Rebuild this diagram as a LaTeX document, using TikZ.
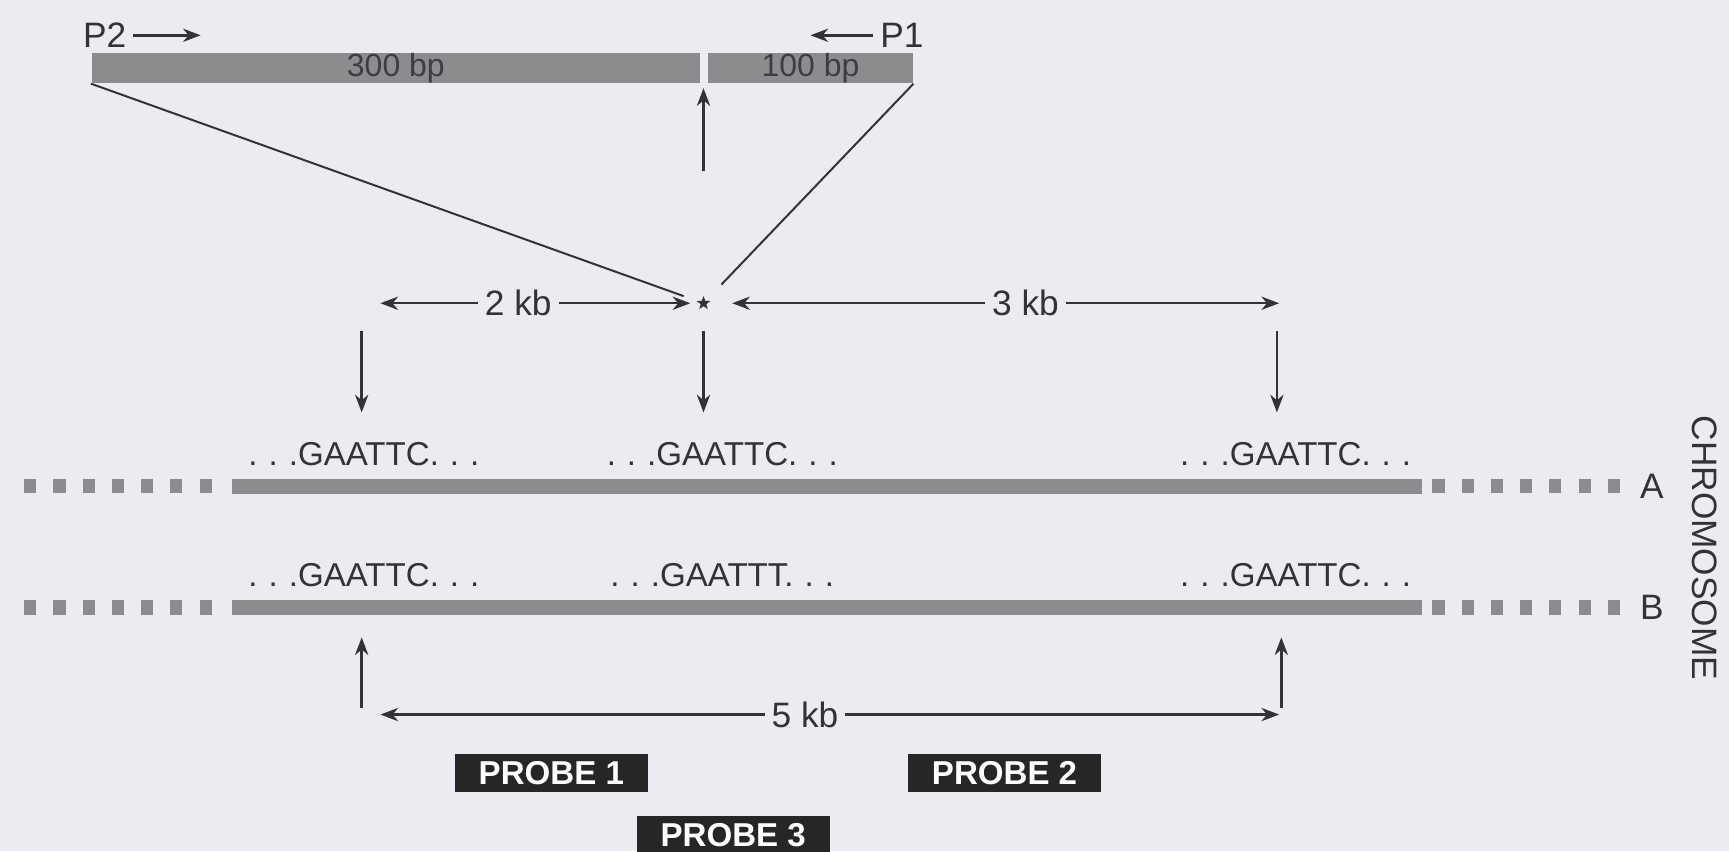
\documentclass[tikz,border=0pt]{standalone}
\usepackage{fontspec}
\setmainfont{Liberation Sans}
\usetikzlibrary{arrows.meta,shapes.geometric}
\definecolor{bg}{RGB}{237,235,241}
\definecolor{bar}{RGB}{140,140,143}
\definecolor{ink}{RGB}{50,50,55}
\definecolor{bartext}{RGB}{62,62,66}
\begin{document}
\begin{tikzpicture}[x=0.5pt,y=-0.5pt,
  arr/.style={draw=ink, line width=1.1pt, -{Stealth[length=8pt,width=6pt,inset=2.5pt]}},
  thin/.style={draw=ink, line width=0.9pt},
  seq/.style={text=ink, font=\fontsize{15}{15}\selectfont, inner sep=0pt},
  lab/.style={text=ink, font=\fontsize{16}{16}\selectfont, inner sep=3pt},
  barbox/.style={fill=bar, text=bartext, font=\fontsize{14.5}{14.5}\selectfont, minimum height=10pt, inner sep=0pt},
  probe/.style={fill=black!85, text=white, font=\bfseries\fontsize{15}{15}\selectfont, minimum width=87.5pt, minimum height=17pt, inner sep=0pt},
  chrom/.style={draw=bar, line width=7pt},
  sq/.style={fill=bar},
]
\fill[bg] (0,0) rectangle (1568,772);
\useasboundingbox (0,0) rectangle (1568,772);

% primers
\node[lab, anchor=east] (p2) at (121,32) {P2};
\coordinate (p2e) at (182,32);
\draw[arr] (p2) -- (p2e);
\node[lab, anchor=west] (p1) at (792,32) {P1};
\coordinate (p1e) at (735,32);
\draw[arr] (p1) -- (p1e);

% PCR product bar
\node[barbox, minimum width=276pt] (b300) at (359,62) {300 bp};
\node[barbox, minimum width=93pt] (b100) at (735,62) {100 bp};

% up arrow to gap
\coordinate (gapA) at (638,155);
\coordinate (gapB) at (638,80);
\draw[arr] (gapA) -- (gapB);

% star
\node[star, star points=5, star point ratio=2.4, fill=ink, minimum size=6.5pt, inner sep=0pt] (star) at (638,275) {};
\draw[thin, shorten >=6pt] (b300.south west) -- (star);
\draw[thin, shorten >=10pt] (b100.south east) -- (star);

% 2 kb and 3 kb
\node[lab] (kb2) at (470,275) {2 kb};
\coordinate (k2l) at (345,275);
\coordinate (k2r) at (626,275);
\draw[arr] (kb2) -- (k2l);
\draw[arr] (kb2) -- (k2r);
\node[lab] (kb3) at (930,275) {3 kb};
\coordinate (k3l) at (664,275);
\coordinate (k3r) at (1160,275);
\draw[arr] (kb3) -- (k3l);
\draw[arr] (kb3) -- (k3r);

% down arrows
\foreach \x/\n in {328/a,638/b,1158/c}{
  \coordinate (d\n1) at (\x,300);
  \coordinate (d\n2) at (\x,374);
  \draw[arr] (d\n1) -- (d\n2);
}

% sequences
\node[seq] (sa1) at (330,412) {.\,\,.\,\,.GAATTC.\,\,.\,\,.};
\node[seq] (sa2) at (655,412) {.\,\,.\,\,.GAATTC.\,\,.\,\,.};
\node[seq] (sa3) at (1175,412) {.\,\,.\,\,.GAATTC.\,\,.\,\,.};
\node[seq] (sb1) at (330,522) {.\,\,.\,\,.GAATTC.\,\,.\,\,.};
\node[seq] (sb2) at (655,522) {.\,\,.\,\,.GAATTT.\,\,.\,\,.};
\node[seq] (sb3) at (1175,522) {.\,\,.\,\,.GAATTC.\,\,.\,\,.};

% chromosomes
\foreach \y/\l in {441/A,551/B}{
  \draw[chrom] (210,\y) -- (1290,\y);
  \foreach \i in {0,...,6}{
    \fill[sq] ({22+26.5*\i},\y-6.5) rectangle ++(11,13);
    \fill[sq] ({1299+26.5*\i},\y-6.5) rectangle ++(11,13);
  }
  \node[lab] (lab\l) at (1498,\y) {\l};
}
\node[lab, rotate=-90, font=\fontsize{16}{16}\selectfont] (chr) at (1546,497) {CHROMOSOME};

% up arrows below B
\foreach \x/\n in {328/a,1162/c}{
  \coordinate (u\n1) at (\x,642);
  \coordinate (u\n2) at (\x,578);
  \draw[arr] (u\n1) -- (u\n2);
}

% 5 kb
\node[lab] (kb5) at (730,648) {5 kb};
\coordinate (k5l) at (345,648);
\coordinate (k5r) at (1160,648);
\draw[arr] (kb5) -- (k5l);
\draw[arr] (kb5) -- (k5r);

% probes
\node[probe] (pr1) at (500,701) {PROBE 1};
\node[probe] (pr2) at (911,701) {PROBE 2};
\node[probe] (pr3) at (665,757) {PROBE 3};
\end{tikzpicture}
\end{document}
